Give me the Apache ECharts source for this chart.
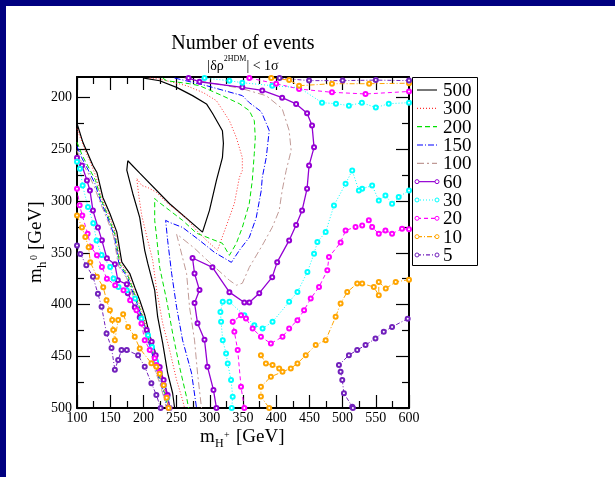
<!DOCTYPE html>
<html><head><meta charset="utf-8">
<script src="https://cdn.jsdelivr.net/npm/echarts@6/dist/echarts.min.js"></script>
<style>
html,body{margin:0;padding:0;background:#000080;width:615px;height:477px;overflow:hidden}
#paper{position:absolute;left:6px;top:6px;width:609px;height:471px;background:#fff}
#main{position:absolute;left:0;top:0;width:615px;height:477px}
</style></head><body>
<div id="paper"></div><div id="main"></div>
<script>
// ---- data (x = m_H+ [GeV], y = m_h0 [GeV]) ----
const levels = ['500','300','200','150','100','60','30','20','10','5'];
const xTicks = [100,150,200,250,300,350,400,450,500,550,600];
const yTicksMajor = [200,250,300,350,400,450,500];
const yTicksMinor = [225,275,325,375,425,475];

// 500
const c500a = [[201,181],[224.5,183.6],[250,190],[274,198],[295,206],[304,215],[319,232],[320.5,244],[319,258],[310,280],[299.5,309],[289,330],[239.5,302.5],[194.5,273],[176.5,261],[175,270],[184,292.6],[194.5,316],[202,347.6],[206.5,360],[217,386],[221.5,412],[229,437],[236.5,466],[244,485.5],[247,500]];
const c500b = [[100,225],[109,243.4],[124,265.6],[130,272.3],[139,296.5],[149.5,312],[160,330],[164.5,347.6],[167.5,359],[179.5,370],[188.5,386],[194.5,395.8],[202,410],[209.5,429.6],[217,444],[221.5,458.5],[229,471],[235,484.6],[239.5,500]];
// 300
const c300a = [[209.5,181],[224.5,182],[265,188.4],[290.5,195.2],[310,202.9],[329.5,222.2],[340,238.6],[349,257.9],[349,270.4],[344.5,277.2],[337,302.2],[329.5,315.8],[311.5,347.6],[295,337.9],[280,328.3],[265,316.7],[250,309],[235,301.3],[220,291.6],[206.5,286.8],[197.5,284.9],[190,278],[193,294.5],[197.5,313.8],[206.5,337.9],[214,357.2],[220,386.2],[229,418],[239.5,444],[250,473],[259,492.3],[262,500]];
const c300b = [[100,230],[111,249],[123,267],[129,277],[137,297],[147.5,313],[158,331],[162.5,348],[165.5,360],[177.5,371],[186.5,387],[192.5,397],[200,411],[207.5,430],[215,445],[219.5,459],[227,472],[233,485],[237.5,500]];
// 200
const c200a = [[229,181],[235,183.6],[269.5,186.5],[284.5,188.4],[319,198.1],[344.5,205.8],[359.5,212.5],[367,222.2],[368.5,238.6],[367,254],[364,280],[359.5,302.2],[349,325.4],[340,340.8],[329.5,352.4],[319,340.8],[280,331],[259,318.6],[239.5,309],[220,299.4],[217,297.4],[217,318.6],[220,335],[224.5,364],[235,395.8],[244,427.6],[254.5,460.4],[265,489.4],[268,500]];
const c200b = [[100,243],[108,256],[118,268],[128,280],[136,298],[146.5,314],[157,332],[161.5,349],[164.5,361],[176.5,372],[185.5,388],[191.5,398],[199,412],[206.5,431],[214,446],[218.5,460],[226,473],[232,486],[236.5,500]];
// 150
const c150a = [[247,181],[295,188.4],[349,198],[359.5,204.8],[377.5,213.5],[386.5,227],[389.5,231.8],[385,257.9],[379,277.2],[377.5,289.7],[370,315.8],[359.5,335],[344.5,347.6],[332.5,359.2],[307,349.5],[284.5,337.9],[259,325.4],[239.5,320.6],[233.5,318.6],[236.5,337.9],[242.5,369.8],[250,402.6],[259,434.4],[272.5,466.2],[280,500]];
const c150b = [[100,247],[107,258],[117,270],[127,283],[135,299],[145.5,315],[156,333],[160.5,350],[163.5,362],[175.5,373],[184.5,389],[190.5,399],[198,413],[205.5,432],[213,447],[217.5,461],[225,474],[231,487],[235.5,500]];
// 100
const c100a = [[262,181],[349,191.3],[385,198.1],[409,210.6],[419.5,231.8],[422.5,251.1],[415,270.4],[409,289.7],[404.5,309],[394,325.4],[379,342.8],[359.5,364],[349,379.4],[340,381.3],[329.5,376.5],[299.5,359.2],[277,345.6],[254.5,334],[250,332],[265,369.8],[269.5,402.6],[277,434.4],[281.5,466.2],[287.5,500]];
const c100b = [[100,251],[106,261],[116,272],[126,286],[134,300],[144.5,316],[155,334],[159.5,351],[162.5,363],[174.5,374],[183.5,390],[189.5,400],[197,414],[204.5,433],[212,448],[216.5,462],[224,475],[230,488],[234.5,500]];
// 60
const c60a = [[268,181],[284.5,184.6],[349,190],[379,193],[409,200],[430,206],[446.5,215],[454,227],[457,248],[449.5,265.5],[446.5,288],[439,309],[430,323],[419.5,338],[401.5,359],[394,373.5],[374.5,389],[359.5,398],[352,398],[329.5,388],[304,364],[274,355],[277,370],[284.5,386],[277,398.5],[281.5,418],[292,434],[296.5,460],[305.5,482.5],[310,500]];
const c60b = [[100,258],[107.5,265.6],[115,280],[119.5,289.7],[124,309],[131.5,325.4],[137.5,337.9],[145,355.3],[157,361],[161.5,376.5],[175,380.4],[176.5,389],[187,402.6],[194.5,412.2],[205,424.7],[212.5,436],[218.5,448.9],[224.5,460.4],[230.5,473],[236.5,487.4],[239.5,500]];
// 30
const c30a = [[292,181],[329.5,183.6],[349,185.5],[394,188.4],[434.5,190.3],[469,204.8],[490,205.8],[509.5,207.7],[529,204.8],[550,209.6],[569.5,205.8],[600,204.8]];
const c30b = [[100,262],[104.5,268.8],[108.5,285],[116.5,305.8],[124.5,321.5],[129.5,338],[137,352],[150,363.7],[155,374.7],[162.5,383],[175,386.2],[187.5,394.2],[197,413.5],[207,429.6],[213,441],[219,455],[225,466],[231,478],[236,490],[238.5,500]];
const c30c = [[600,289.7],[584.5,296.1],[574.5,302.5],[564.5,294.5],[554.5,299.4],[544.5,284.9],[529.5,288],[524.5,289.7],[514.5,270.4],[504.5,283.2],[487,304.2],[474.5,329.9],[462,339.6],[457,350.8],[447,368.5],[432,387.8],[419.5,397.4],[394.5,416.7],[379.5,423.1],[367,419.9],[352,410.3],[329.5,397.4],[319.5,397.4],[316,407.1],[317,416.7],[319.5,434.4],[324.5,447.2],[327,456.9],[332,473],[334.5,489.1],[333,500]];
// 20
const c20a = [[359.5,181],[400,186.5],[434.5,191.6],[484,194.8],[534.5,196.4],[600,194]];
const c20b = [[100,288],[104,304],[108,314],[116,331.5],[121,344.4],[130,352.4],[137.5,363.7],[145,375],[157.5,381.3],[170,386.2],[180,395.8],[189.5,405.5],[197,418.3],[202,434.4],[209.5,444],[217,452],[219.5,458.5],[224.5,465.3],[230.5,477.8],[235,489.4],[238,500]];
const c20c = [[600,327.3],[589.5,326.6],[574.5,331.5],[564.5,328.3],[554.5,331.5],[544.5,325.1],[539.5,318.6],[529.5,323.5],[519.5,325.1],[504.5,328.3],[497,340],[479.5,354],[477,366.9],[464.5,383],[452,394.2],[442,405.5],[432,415.1],[419.5,423.1],[409.5,431.2],[392,437.6],[377,431.2],[364.5,423.1],[354.5,413.5],[347,410.3],[334.5,416.7],[337,426.4],[342,444],[347,479.4],[352,500]];
// 10
const c10a = [[392.5,181],[419.5,183],[434.5,188.4],[484,186.5],[540,186.5],[600,186]];
const c10b = [[100,314],[107.5,325.4],[112.5,334.8],[117.5,344.5],[120,359],[130,373],[139.5,383.2],[144.5,395.8],[149.5,405.5],[153,415],[154.5,424.7],[157,434.4],[162,415],[169.5,409.3],[177,421.6],[187,431.2],[194.5,442.4],[212,456.8],[219.5,460],[224.5,467],[230.5,478],[235,490],[238,500]];
const c10c = [[600,376],[580,378.1],[565,384.5],[554.5,378.1],[554.5,391],[547,383],[529.5,379.7],[522,379.7],[507,387.8],[497,399],[489.5,411.9],[474.5,434.4],[459.5,439.2],[444.5,448.9],[432,456.9],[422,461.7],[409.5,465],[392,469.8],[377,479.4],[377,489],[389.5,500]];
const c10d = [[377,448.9],[384.5,456.9],[394.5,458.5],[404.5,461.7]];
// 5
const c5a = [[405,181],[449.5,183.5],[500,183.5],[550,183],[600,183.5]];
const c5b = [[100,343],[105,351],[114,362],[124,373],[131.5,389.5],[137,402],[144.5,428],[152,442],[157,463],[162,453.7],[167,444],[175,444],[192,449],[202,460],[212,476],[219.5,487.4],[226,500]];
const c5c = [[598,413.6],[574.5,421.6],[562,426.4],[549.5,432.8],[534.5,439.2],[522,444],[509.5,448.9],[494.5,458.5],[497,465],[499.5,473],[502,485.8],[514.5,498.7],[515.5,500]];

const pieces = {
  '500':[c500a,c500b], '300':[c300a,c300b], '200':[c200a,c200b], '150':[c150a,c150b],
  '100':[c100a,c100b], '60':[c60a,c60b], '30':[c30a,c30b,c30c], '20':[c20a,c20b,c20c],
  '10':[c10a,c10b,c10c,c10d], '5':[c5a,c5b,c5c]
};
const styles = {
  '500':{color:'#000000', type:'solid', w:1.2, sym:false},
  '300':{color:'#ff3030', type:[1,2], w:1, sym:false},
  '200':{color:'#00e000', type:[5,3], w:1, sym:false},
  '150':{color:'#0000ff', type:[6,2,1,2], w:1, sym:false},
  '100':{color:'#c09a96', type:[7,3,2,3], w:1, sym:false},
  '60':{color:'#9400d3', type:'solid', w:1.3, sym:true},
  '30':{color:'#00ffff', type:[1,2], w:1, sym:true},
  '20':{color:'#ff00ff', type:[4,3], w:1, sym:true},
  '10':{color:'#ffa500', type:[5,2,1,2], w:1, sym:true},
  '5':{color:'#7221bc', type:[4,2,1,2], w:1, sym:true}
};

const series = [];
levels.forEach(lv => {
  const st = styles[lv];
  pieces[lv].forEach(arr => {
    series.push({
      name: lv, type:'line', data: arr, xAxisIndex:0, yAxisIndex:0,
      smooth:false, clip:true, animation:false,
      symbol: st.sym ? 'emptyCircle' : 'none', symbolSize: 4, showSymbol: st.sym,
      itemStyle:{color: st.color, borderWidth:1},
      lineStyle:{color: st.color, width: st.w, type: st.type},
      emphasis:{disabled:true}
    });
  });
});

const serif = 'Liberation Serif, Times New Roman, serif';
const tickStyle = {color:'#000', width:1.2};
function yAx(pos, major){
  return {
    type:'value', inverse:true, min:180, max:500, position:pos,
    axisLine:{show:major, onZero:false, lineStyle:{color:'#000', width:2}},
    axisTick:{show:true, inside:true, length: major?13:7, lineStyle:tickStyle, customValues: major?yTicksMajor:yTicksMinor},
    axisLabel:{show: pos==='left' && major, customValues: yTicksMajor, color:'#000', fontFamily:serif, fontSize:14, margin:5},
    splitLine:{show:false}
  };
}
function xAx(pos){
  return {
    type:'value', min:100, max:600, interval:50, position:pos,
    axisLine:{show:true, onZero:false, lineStyle:{color:'#000', width:2}},
    axisTick:{show:true, inside:true, length:13, lineStyle:tickStyle},
    minorTick:{show:true, splitNumber:2, length:7, lineStyle:tickStyle},
    axisLabel:{show: pos==='bottom', color:'#000', fontFamily:serif, fontSize:14, margin:3,
      customValues: xTicks},
    splitLine:{show:false}
  };
}
// text piece positioned by its baseline (middle of em box is ~0.34em above baseline)
function txt(x, base, s, size){
  return {type:'text', x:x, y:base - 0.34*size, style:{text:s, fill:'#000', font: size+'px "Liberation Serif"', align:'left', verticalAlign:'middle'}};
}

// axis titles
const xTitle = {type:'group', x:0, y:0, children:[
  txt(200, 443, 'm', 19), txt(215, 448, 'H', 12), txt(224, 439, '+', 10), txt(236, 443, '[GeV]', 19)
]};
const yTitle = {type:'group', x:42, y:243, rotation: Math.PI/2, children:[
  txt(-40, 0, 'm', 19), txt(-25, 5, 'h', 13), txt(-17, -4, '0', 10), txt(-7, 0, '[GeV]', 19)
]};

// legend built as graphic (box, line samples, labels)
const legendGraphic = [{type:'rect', shape:{x:412.5, y:77.5, width:65, height:188}, style:{fill:'#fff', stroke:'#000', lineWidth:1}}];
levels.forEach((lv,i) => {
  const st = styles[lv];
  const cy = 90 + i*18.33;
  legendGraphic.push({type:'line', shape:{x1:417, y1:cy, x2:437, y2:cy},
    style:{stroke: lv==='500' ? '#555' : st.color, lineWidth: lv==='500'?1.6:1.2, lineDash: st.type==='solid'?null:st.type}});
  if (st.sym) {
    legendGraphic.push({type:'circle', shape:{cx:417, cy:cy, r:2}, style:{fill:'#fff', stroke:st.color, lineWidth:1}});
    legendGraphic.push({type:'circle', shape:{cx:437, cy:cy, r:2}, style:{fill:'#fff', stroke:st.color, lineWidth:1}});
  }
  legendGraphic.push({type:'text', x:443, y:cy+1, style:{text:lv, fill:'#000', font:'19px "Liberation Serif"', align:'left', verticalAlign:'middle'}});
});

const chart = echarts.init(document.getElementById('main'), null, {renderer:'canvas'});
chart.setOption({
  backgroundColor:'transparent',
  animation:false,
  grid:{left:77, top:77, width:332, height:331, show:false, containLabel:false},
  xAxis:[xAx('bottom'), xAx('top')],
  yAxis:[yAx('left',true), yAx('left',false), yAx('right',true), yAx('right',false)],
  graphic:[
    {type:'text', x:243, y:44, style:{text:'Number of events', fill:'#000', font:'20px "Liberation Serif"', align:'center', verticalAlign:'middle'}},
    {type:'text', x:243, y:64, style:{text:'{a||δρ}{s|2HDM}{a|| < 1σ}', align:'center', verticalAlign:'middle',
      rich:{a:{fontSize:14, lineHeight:18, verticalAlign:'bottom', fontFamily:serif, fill:'#000'},
            s:{fontSize:8, lineHeight:10, verticalAlign:'top', fontFamily:serif, fill:'#000'}}}},
    xTitle, yTitle
  ].concat(legendGraphic),
  series: series
});
</script></body></html>
